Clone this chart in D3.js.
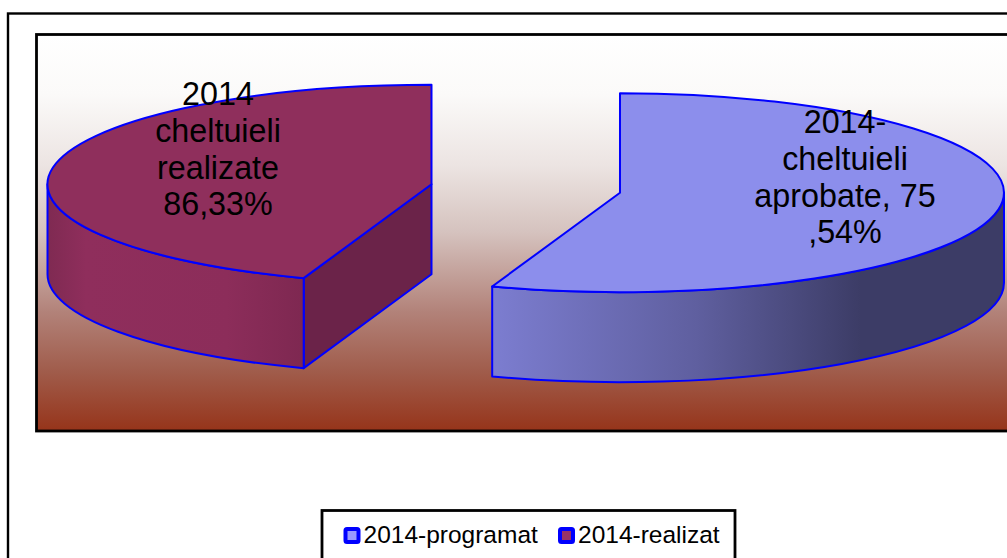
<!DOCTYPE html>
<html>
<head>
<meta charset="utf-8">
<script src="https://cdn.jsdelivr.net/npm/d3@7"></script>
<style>
  html, body { margin: 0; background: #fff; overflow: hidden; }
  svg { display: block; }
  text { font-family: "Liberation Sans", Arial, sans-serif; fill: #000; }
</style>
</head>
<body>
<svg width="1007" height="558"></svg>
<script>
// legend names and the labels as printed on the chart
const seriesNames = ['2014-programat', '2014-realizat'];
const sliceLabels = [
  ['2014-', 'cheltuieli', 'aprobate, 75', ',54%'],
  ['2014', 'cheltuieli', 'realizate', '86,33%'],
];
// slice sizes as drawn (they do not follow the printed %)
const sliceShares = [55.4, 44.6];

const topColors = ['#8c8eec', '#8f2f5c'];
const legendFills = ['#9999ff', '#993366'];

const width = 1007;
const height = 558;
const centre = { x: 525.75, y: 188.5 };
const rx = 384;
const ry = 99.5;
const depth = 90;
const explode = 0.249;
const tau = Math.PI * 2;

const svg = d3.select('svg');
const defs = svg.append('defs');

const addGradient = (id, x2, y2, stops) => {
  defs.append('linearGradient')
    .attr('id', id)
    .attr('x1', 0).attr('y1', 0)
    .attr('x2', x2).attr('y2', y2)
    .selectAll('stop')
      .data(stops)
    .join('stop')
      .attr('offset', (d) => d[0])
      .attr('stop-color', (d) => d[1]);
};

addGradient('plot-bg', 0, 1, [
  [0, '#ffffff'], [0.15, '#fbfaf9'], [0.33, '#ece4e2'], [0.5, '#d5c2be'],
  [0.7, '#b28279'], [0.85, '#a05c4b'], [1, '#96341a'],
]);
addGradient('side-0', 1, 0, [[0, '#7c7dd0'], [0.4, '#5f5f9f'], [0.72, '#3c3c66'], [1, '#3c3c66']]);
addGradient('side-1', 1, 0, [[0, '#7f2a52'], [0.15, '#8f2e5c'], [0.7, '#8c2d5a'], [1, '#7e2851']]);

// frames
svg.append('rect')
  .attr('x', 8).attr('y', 13.5)
  .attr('width', width).attr('height', height)
  .attr('fill', '#fff').attr('stroke', '#000').attr('stroke-width', 2.4);

svg.append('rect')
  .attr('x', 36.5).attr('y', 34.5)
  .attr('width', width).attr('height', 396.5)
  .attr('fill', 'url(#plot-bg)').attr('stroke', '#000').attr('stroke-width', 2.8);

// pie
const pie = d3.pie().sort(null).startAngle(0).endAngle(tau);
const arcs = pie(sliceShares);
const unitArc = d3.arc().innerRadius(0).outerRadius(1);

const rimX = d3.scaleLinear([-1, 1], [-rx, rx]);
const rimY = d3.scaleLinear([-1, 1], [-ry, ry]);
const edge = 2;

arcs.forEach((d, i) => {
  const mid = (d.startAngle + d.endAngle) / 2;
  const cx = centre.x + rimX(explode * Math.sin(mid));
  const cy = centre.y + rimY(-explode * Math.cos(mid));
  const px = (a) => cx + rimX(Math.sin(a));
  const py = (a) => cy + rimY(-Math.cos(a));

  const g = svg.append('g').attr('class', 'slice');

  // face of the cut, only the one turned to the viewer
  if (d.startAngle > Math.PI) {
    const a = d.startAngle;
    g.append('path')
      .attr('d', `M${cx},${cy}L${px(a)},${py(a)}L${px(a)},${py(a) + depth}L${cx},${cy + depth}Z`)
      .attr('fill', '#6b2349')
      .attr('stroke', '#0000ff')
      .attr('stroke-width', edge)
      .attr('stroke-linejoin', 'round');
  }

  // outer wall, the front half of the rim only
  const a0 = Math.max(d.startAngle, Math.PI / 2);
  const a1 = Math.min(d.endAngle, Math.PI * 1.5);
  g.append('path')
    .attr('d', `M${px(a0)},${py(a0)}A${rx},${ry} 0 0 1 ${px(a1)},${py(a1)}`
      + `L${px(a1)},${py(a1) + depth}A${rx},${ry} 0 0 0 ${px(a0)},${py(a0) + depth}Z`)
    .attr('fill', `url(#side-${i})`)
    .attr('stroke', '#0000ff')
    .attr('stroke-width', edge)
    .attr('stroke-linejoin', 'round');

  // top
  g.append('path')
    .attr('d', unitArc(d))
    .attr('transform', `translate(${cx},${cy}) scale(${rx},${ry})`)
    .attr('fill', topColors[i])
    .attr('stroke', '#0000ff')
    .attr('stroke-width', edge)
    .attr('vector-effect', 'non-scaling-stroke')
    .attr('stroke-linejoin', 'round');
});

// labels
const labelAnchors = [{ x: 845, y: 133 }, { x: 218, y: 105 }];
const labelLine = 36.8;

sliceLabels.forEach((lines, i) => {
  svg.append('text')
    .attr('class', 'slice-label')
    .attr('text-anchor', 'middle')
    .style('font-size', '32.3px')
    .selectAll('tspan')
      .data(lines)
    .join('tspan')
      .attr('x', labelAnchors[i].x)
      .attr('y', (d, j) => labelAnchors[i].y + j * labelLine)
      .text((d) => d);
});

// legend
svg.append('rect')
  .attr('x', 322).attr('y', 510.5)
  .attr('width', 413).attr('height', 80)
  .attr('fill', '#fff').attr('stroke', '#000').attr('stroke-width', 2.8);

const legendX = d3.scalePoint(seriesNames, [345.5, 560]);
const legend = svg.selectAll('g.legend-item')
  .data(seriesNames)
  .join('g')
    .attr('class', 'legend-item')
    .attr('transform', (d) => `translate(${legendX(d)}, 529)`);

legend.append('rect')
  .attr('width', 13).attr('height', 13)
  .attr('rx', 1.5)
  .attr('fill', (d, i) => legendFills[i])
  .attr('stroke', '#0000ff')
  .attr('stroke-width', 4)
  .attr('stroke-linejoin', 'round');

legend.append('text')
  .attr('x', 18)
  .attr('y', 14)
  .style('font-size', '24.5px')
  .text((d) => d);
</script>
</body>
</html>
